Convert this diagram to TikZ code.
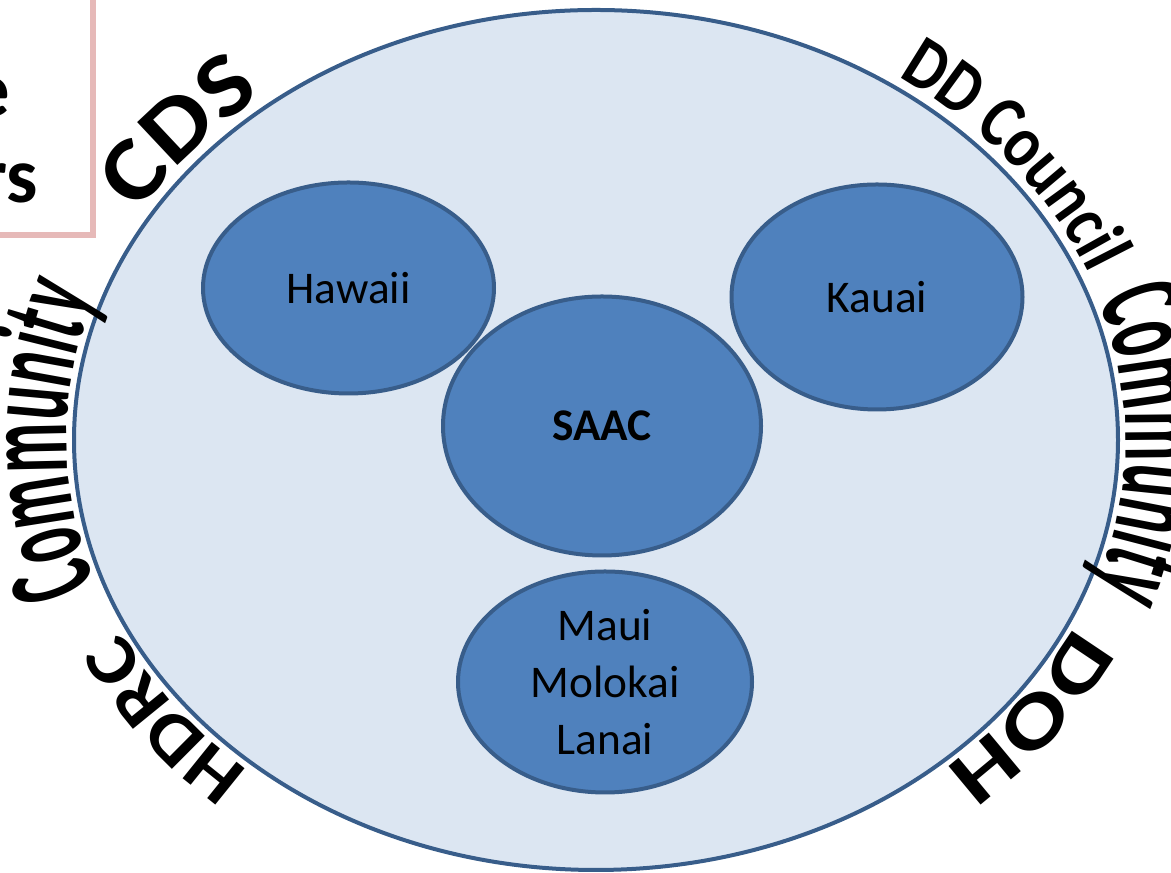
\documentclass[tikz,border=0pt]{standalone}
\usepackage{fontspec}
\setmainfont{Carlito}
\newfontfamily\fcds{Carlito}[FakeStretch=1.15]
\newfontfamily\fdd{Carlito}[FakeStretch=0.82]
\newfontfamily\fcom{Carlito}[FakeStretch=0.5]
\newfontfamily\fdoh{Carlito}[FakeStretch=1.3]
\newfontfamily\fhdrc{Carlito}[FakeStretch=1.12]
\newcommand\Lcds{\fcds\bfseries\fontsize{68}{72}\selectfont}
\newcommand\Ldd{\fdd\bfseries\fontsize{56}{60}\selectfont}
\newcommand\Lcom{\fcom\bfseries\fontsize{92}{96}\selectfont}
\newcommand\Ldoh{\fdoh\bfseries\fontsize{58}{62}\selectfont}
\newcommand\Lhdrc{\fhdrc\bfseries\fontsize{54}{58}\selectfont}
\usetikzlibrary{shapes.geometric,decorations.text,calc}
\definecolor{bigfill}{HTML}{DCE6F2}
\definecolor{edgeblue}{HTML}{385D8A}
\definecolor{isle}{HTML}{4F81BD}
\definecolor{pinkline}{HTML}{E6B9B8}
\begin{document}
\begin{tikzpicture}[x=0.75pt,y=0.75pt,
  ringshape/.style={ellipse, draw=edgeblue, fill=bigfill, line width=3pt, inner sep=0pt},
  island/.style={ellipse, draw=edgeblue, fill=isle, line width=3pt, inner sep=0pt,
    font=\fontsize{34}{42.75}\selectfont, align=center, text=black},
  lbl/.style={decorate, decoration={text along path, text align=center, text={#1}}},
  boxtext/.style={anchor=base east, inner sep=0pt, font=\bfseries\fontsize{59}{64}\selectfont}
]
\useasboundingbox (0,0) rectangle (1171,873);
\clip (0,0) rectangle (1171,873);
% partial box at top left
\draw[pinkline, line width=4.5pt] (-30,910) rectangle (93,638);
\node[boxtext] (boxe) at (10,756) {e};
\node[boxtext] (boxrs) at (38,670) {rs};
% big ellipse
\node[ringshape, minimum width=783pt, minimum height=645pt] (ring) at (596,433) {};
% islands
\node[island, minimum width=218.25pt, minimum height=158.25pt] (hawaii) at (348.5,585) {Hawaii};
\node[island, minimum width=218.25pt, minimum height=168.75pt] (kauai) at (877,576) {Kauai};
\node[island, minimum width=238.5pt, minimum height=194.25pt] (saac) at (602,447) {\bfseries SAAC};
\node[island, minimum width=220.5pt, minimum height=165.75pt] (maui) at (605,191) {Maui\\Molokai\\Lanai};
% labels along the ring (clockwise)
\path[lbl={|\Lcds|CDS}] ($(ring.center)+(181:399pt and 331.5pt)$) arc[start angle=181, end angle=101, x radius=399pt, y radius=331.5pt];
\path[lbl={|\Ldd|DD Council}] ($(ring.center)+(82:399pt and 331.5pt)$) arc[start angle=82, end angle=-9, x radius=399pt, y radius=331.5pt];
\path[lbl={|\Lcom|Community}] ($(ring.center)+(54.5:397pt and 331.5pt)$) arc[start angle=54.5, end angle=-55.5, x radius=397pt, y radius=331.5pt];
\path[lbl={|\Ldoh|DOH}] ($(ring.center)+(5:396pt and 329pt)$) arc[start angle=5, end angle=-75, x radius=396pt, y radius=329pt];
\path[lbl={|\Lhdrc|HDRC}] ($(ring.center)+(255.5:396pt and 329pt)$) arc[start angle=255.5, end angle=175.5, x radius=396pt, y radius=329pt];
\path[lbl={|\Lcom|Community}] ($(ring.center)+(235:397pt and 331.5pt)$) arc[start angle=235, end angle=125, x radius=397pt, y radius=331.5pt];
\end{tikzpicture}
\end{document}
